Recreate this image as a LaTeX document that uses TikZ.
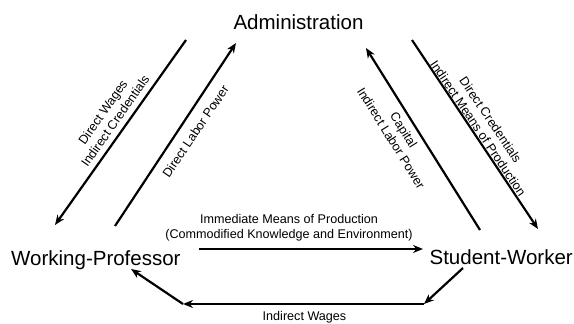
\documentclass[tikz,border=0pt]{standalone}
\usepackage{fontspec}
\setmainfont{Liberation Sans}
\usetikzlibrary{arrows.meta}

\begin{document}
\begin{tikzpicture}[x=1pt,y=-1pt,
        actor/.style={font=\fontsize{20.5}{24}\selectfont, inner sep=0pt},
        flow/.style={line width=2.2pt, -{Stealth[length=10pt,width=8pt]}},
        tag/.style={font=\fontsize{12.6}{15}\selectfont, align=center, inner sep=0pt}]
    \useasboundingbox (0,0) rectangle (574,324);
    % the three parties
    \node [actor, anchor=base]      (admin)   at (298.5,29)  {Administration};
    \node [actor, anchor=base west] (prof)    at (11,265)    {Working-Professor};
    \node [actor, anchor=base east] (student) at (573,264.5) {Student-Worker};
    % ends of the arrows
    \coordinate (wages top)  at (186,40);   \coordinate (wages end)  at (55,225);
    \coordinate (labor bot)  at (115,226);  \coordinate (labor end)  at (236,43);
    \coordinate (cap bot)    at (480,230);  \coordinate (cap end)    at (366,48);
    \coordinate (cred top)   at (412,40);   \coordinate (cred end)   at (538,229);
    \coordinate (means west) at (199,249);  \coordinate (means east) at (423,249);
    \coordinate (pay start)  at (463,268);  \coordinate (pay right)  at (424,304);
    \coordinate (pay left)   at (183,304);  \coordinate (pay end)    at (131,269);
    % administration <-> working-professor
    \draw [flow] (wages top) -- (wages end);
    \draw [flow] (labor bot) -- (labor end);
    \node [tag, rotate=55] (wages) at (109,116.5) {Direct Wages\\Indirect Credentials};
    \node [tag, rotate=56] (labor) at (195.5,131.5) {Direct Labor Power};
    % student-worker <-> administration
    \draw [flow] (cap bot) -- (cap end);
    \draw [flow] (cred top) -- (cred end);
    \node [tag, rotate=-58] (capital) at (397.5,134) {Capital\\Indirect Labor Power};
    \node [tag, rotate=-56] (creds) at (484.5,124) {Direct Credentials\\Indirect Means of Production};
    % working-professor -> student-worker
    \draw [flow] (means west) -- (means east);
    \node [tag] (means) at (289,228) {Immediate Means of Production\\(Commodified Knowledge and Environment)};
    % student-worker -> working-professor, round the bottom
    \draw [flow] (pay start) -- (pay right);
    \draw [flow] (pay right) -- (pay left);
    \draw [flow] (pay left) -- (pay end);
    \node [tag] (pay) at (304.5,317.5) {Indirect Wages};
\end{tikzpicture}
\end{document}
